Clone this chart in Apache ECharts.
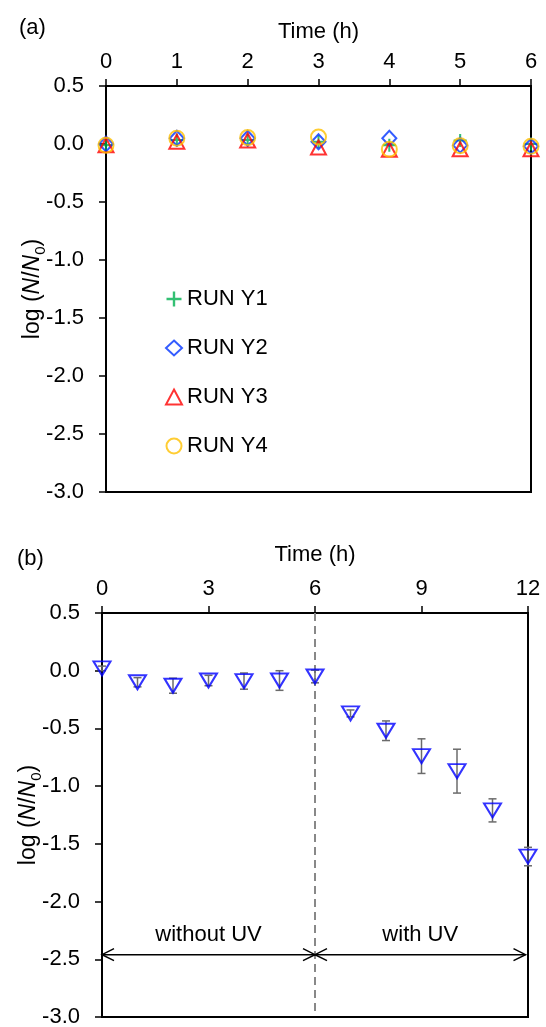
<!DOCTYPE html>
<html>
<head>
<meta charset="utf-8">
<script src="https://cdn.jsdelivr.net/npm/echarts@6/dist/echarts.min.js"></script>
<style>
html, body { margin: 0; padding: 0; background: #fff; }
#chart { width: 546px; height: 1027px; }
</style>
</head>
<body>
<div id="chart"></div>
<script>
// ---- panel (a): four runs, 0-6 h
var timeA = [0, 1, 2, 3, 4, 5, 6];
var runY1 = [-0.01, 0.035, 0.035, 0.02, -0.01, 0.03, 0.00];
var runY2 = [0.00, 0.05, 0.05, 0.02, 0.05, -0.01, -0.02];
var runY3 = [-0.01, 0.02, 0.03, -0.03, -0.05, -0.045, -0.045];
var runY4 = [-0.01, 0.05, 0.055, 0.06, -0.045, -0.015, -0.02];
var runNames = ['RUN Y1', 'RUN Y2', 'RUN Y3', 'RUN Y4'];

// ---- panel (b): mean with error bars, 0-12 h
var timeB = [0, 1, 2, 3, 4, 5, 6, 7, 8, 9, 10, 11, 12];
var meanB = [0.02, -0.10, -0.13, -0.085, -0.09, -0.085, -0.05, -0.37, -0.52, -0.74, -0.87, -1.21, -1.61];
var errB = [0.02, 0.04, 0.065, 0.045, 0.07, 0.085, 0.055, 0.03, 0.085, 0.15, 0.19, 0.10, 0.08];

// UV phases (arrows + labels)
var uvPhases = ['without UV', 'with UV'];
var phaseStart = [0, 6];
var phaseEnd = [6, 11.93];
var arrowY = -2.46;
var phaseLabelY = -2.29;
var uvSwitch = 6;

var FONT = "'Liberation Sans', Arial, sans-serif";
var FS = 22;

function pairs(xs, ys) {
    return xs.map(function (x, i) { return [x, ys[i]]; });
}

function xAxisOpt(gridIndex, max, interval, nameGap) {
    return {
        type: 'value',
        gridIndex: gridIndex,
        position: 'top',
        min: 0,
        max: max,
        interval: interval,
        name: 'Time (h)',
        nameLocation: 'middle',
        nameGap: nameGap,
        nameTextStyle: { fontSize: FS, color: '#000', fontFamily: FONT },
        axisLine: { show: true, onZero: false, lineStyle: { color: '#000', width: 2 } },
        axisTick: { show: true, length: 7, lineStyle: { color: '#000', width: 1.5 } },
        axisLabel: { fontSize: FS, color: '#000', fontFamily: FONT, margin: 13 },
        splitLine: { show: false }
    };
}

function yAxisOpt(gridIndex) {
    return {
        type: 'value',
        gridIndex: gridIndex,
        min: -3,
        max: 0.5,
        interval: 0.5,
        name: '{r|log (}{i|N}{r|/}{i|N}{s|0}{r|)}',
        nameLocation: 'middle',
        nameGap: 58,
        nameMoveOverlap: false,
        nameTextStyle: {
            fontSize: 23, color: '#000', fontFamily: FONT,
            rich: {
                r: { fontSize: 23, fontFamily: FONT, color: '#000', lineHeight: 30, verticalAlign: 'middle' },
                i: { fontSize: 23, fontFamily: FONT, color: '#000', fontStyle: 'italic', lineHeight: 30, verticalAlign: 'middle' },
                s: { fontSize: 15, fontFamily: FONT, color: '#000', lineHeight: 30, verticalAlign: 'bottom' }
            }
        },
        axisLine: { show: true, onZero: false, lineStyle: { color: '#000', width: 2 } },
        axisTick: { show: true, length: 7, lineStyle: { color: '#000', width: 1.5 } },
        axisLabel: {
            fontSize: FS, color: '#000', fontFamily: FONT, margin: 22,
            formatter: function (v) { return v.toFixed(1); }
        },
        splitLine: { show: false }
    };
}

var plusPath = 'path://M4.2,0H5.8V4.2H10V5.8H5.8V10H4.2V5.8H0V4.2H4.2Z';

var chart = echarts.init(document.getElementById('chart'));

var option = {
    animation: false,
    backgroundColor: '#fff',
    textStyle: { fontFamily: FONT },
    grid: [
        { left: 106, top: 86, right: 15, height: 406, show: true, borderColor: '#000', borderWidth: 2, outerBoundsMode: 'none' },
        { left: 102, top: 613, right: 18, height: 404, show: true, borderColor: '#000', borderWidth: 2, outerBoundsMode: 'none' }
    ],
    xAxis: [xAxisOpt(0, 6, 1, 43), xAxisOpt(1, 12, 3, 47)],
    yAxis: [yAxisOpt(0), yAxisOpt(1)],
    legend: {
        orient: 'vertical',
        left: 160,
        top: 283,
        itemWidth: 16,
        itemHeight: 15,
        itemGap: 27,
        textStyle: { fontSize: FS, color: '#000', fontFamily: FONT },
        data: runNames
    },
    graphic: [
        { type: 'text', left: 19, top: 17, style: { text: '(a)', fontSize: FS, fill: '#000', fontFamily: FONT } },
        { type: 'text', left: 17, top: 548, style: { text: '(b)', fontSize: FS, fill: '#000', fontFamily: FONT } }
    ],
    series: [
        {
            name: runNames[0], type: 'scatter', xAxisIndex: 0, yAxisIndex: 0,
            symbol: plusPath, symbolSize: 13,
            itemStyle: { color: '#00B050' },
            data: pairs(timeA, runY1)
        },
        {
            name: runNames[1], type: 'scatter', xAxisIndex: 0, yAxisIndex: 0,
            symbol: 'diamond', symbolSize: [14, 15],
            itemStyle: { color: 'transparent', borderColor: '#0033FF', borderWidth: 2 },
            data: pairs(timeA, runY2)
        },
        {
            name: runNames[2], type: 'scatter', xAxisIndex: 0, yAxisIndex: 0,
            symbol: 'triangle', symbolSize: [15, 14],
            itemStyle: { color: 'transparent', borderColor: '#FF0000', borderWidth: 2 },
            data: pairs(timeA, runY3)
        },
        {
            name: runNames[3], type: 'scatter', xAxisIndex: 0, yAxisIndex: 0,
            symbol: 'circle', symbolSize: 15,
            itemStyle: { color: 'transparent', borderColor: '#FFC000', borderWidth: 2 },
            data: pairs(timeA, runY4)
        },

        // UV switch (dashed vertical line)
        {
            type: 'line', xAxisIndex: 1, yAxisIndex: 1, silent: true, z: 1,
            symbol: 'none',
            lineStyle: { color: '#888', width: 2, type: [8, 5] },
            data: [[uvSwitch, 0.5], [uvSwitch, -2.95]]
        },
        // error bars
        {
            type: 'custom', xAxisIndex: 1, yAxisIndex: 1, silent: true, z: 2,
            data: timeB.map(function (t, i) { return [t, meanB[i], errB[i]]; }),
            renderItem: function (params, api) {
                var x = api.value(0), y = api.value(1), e = api.value(2);
                var top = api.coord([x, y + e]);
                var bot = api.coord([x, y - e]);
                var st = { stroke: '#6b6b6b', lineWidth: 1.5 };
                return {
                    type: 'group',
                    children: [
                        { type: 'line', shape: { x1: top[0], y1: top[1], x2: bot[0], y2: bot[1] }, style: st },
                        { type: 'line', shape: { x1: top[0] - 4, y1: top[1], x2: top[0] + 4, y2: top[1] }, style: st },
                        { type: 'line', shape: { x1: bot[0] - 4, y1: bot[1], x2: bot[0] + 4, y2: bot[1] }, style: st }
                    ]
                };
            }
        },
        // mean values
        {
            type: 'scatter', xAxisIndex: 1, yAxisIndex: 1, z: 3,
            symbol: 'triangle', symbolRotate: 180, symbolSize: [17, 14],
            itemStyle: { color: 'transparent', borderColor: '#0000FF', borderWidth: 2 },
            data: pairs(timeB, meanB)
        },
        // phase arrows and labels
        {
            type: 'custom', xAxisIndex: 1, yAxisIndex: 1, silent: true, z: 4,
            data: uvPhases.map(function (n, i) { return [phaseStart[i], phaseEnd[i], arrowY, phaseLabelY]; }),
            renderItem: function (params, api) {
                var p1 = api.coord([api.value(0), api.value(2)]);
                var p2 = api.coord([api.value(1), api.value(2)]);
                var lp = api.coord([(api.value(0) + api.value(1)) / 2, api.value(3)]);
                var st = { stroke: '#000', lineWidth: 1.5, fill: null };
                return {
                    type: 'group',
                    children: [
                        { type: 'line', shape: { x1: p1[0], y1: p1[1], x2: p2[0], y2: p2[1] }, style: st },
                        { type: 'polyline', shape: { points: [[p1[0] + 12, p1[1] - 6], [p1[0], p1[1]], [p1[0] + 12, p1[1] + 6]] }, style: st },
                        { type: 'polyline', shape: { points: [[p2[0] - 12, p2[1] - 6], [p2[0], p2[1]], [p2[0] - 12, p2[1] + 6]] }, style: st },
                        {
                            type: 'text', x: lp[0], y: lp[1],
                            style: {
                                text: uvPhases[params.dataIndex], fontSize: FS, fontFamily: FONT,
                                fill: '#000', align: 'center', verticalAlign: 'middle'
                            }
                        }
                    ]
                };
            }
        }
    ]
};

chart.setOption(option);
</script>
</body>
</html>
